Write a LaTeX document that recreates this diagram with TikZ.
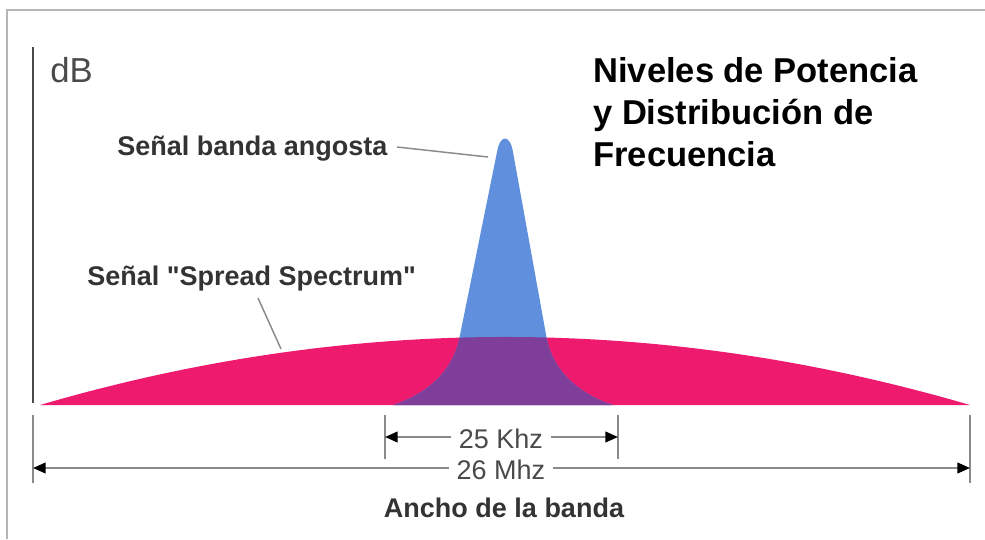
\documentclass[tikz,border=0pt]{standalone}
\usepackage{fontspec}
\setmainfont{Liberation Sans}[Ligatures=TeXOff]
\usetikzlibrary{arrows.meta}
\definecolor{pinkc}{HTML}{EE1A6E}
\definecolor{bluec}{HTML}{6090DD}
\definecolor{purplec}{HTML}{7F3E99}
\definecolor{dimc}{HTML}{8A8A8A}
\definecolor{labelc}{HTML}{333333}
\definecolor{framec}{HTML}{B5B5B5}
\definecolor{axisc}{HTML}{4A4A4A}
\tikzset{
  lbl/.style={font=\fontsize{20.25pt}{24pt}\selectfont\bfseries, text=labelc, inner sep=0pt},
  dimtext/.style={font=\fontsize{20.25pt}{24pt}\selectfont, text=axisc, fill=white, inner xsep=6pt, inner ysep=1pt},
  titletext/.style={font=\fontsize{25.9pt}{31pt}\selectfont\bfseries, text=black, inner sep=0pt, anchor=base west},
  pointer/.style={draw=dimc, line width=1.1pt},
  dimline/.style={draw=dimc, line width=1.5pt},
  tick/.style={draw=dimc, line width=1.5pt},
  dimarrow/.style={dimline, {Triangle[length=9.5pt,width=8pt,color=black]}-{Triangle[length=9.5pt,width=8pt,color=black]}},
}
\begin{document}
\begin{tikzpicture}[x=0.75pt,y=-0.75pt]
\useasboundingbox (0,0) rectangle (985,539);
% frame
\draw[framec, line width=0.9pt] (7,539) -- (7,10) -- (985,10);
% y axis
\draw[axisc, line width=1.5pt] (33,47) -- (33,403);
\node[font=\fontsize{26pt}{30pt}\selectfont, text=axisc, inner sep=0pt, anchor=base west] (db) at (50,82) {dB};

% curves
\def\pinkpath{(40,405) .. controls (350,314.3) and (660,314.3) .. (970,405) -- cycle}
\def\bluepath{(393,405) .. controls (415,398) and (450,380) .. (459,340) -- (497,152) .. controls (500,134) and (510,134) .. (513,152) -- (547,340) .. controls (556,380) and (591,398) .. (613,405) -- cycle}
\fill[pinkc] \pinkpath;
\fill[bluec] \bluepath;
\begin{scope}
  \clip \pinkpath;
  \fill[purplec] \bluepath;
\end{scope}

% labels and pointers
\node[lbl, anchor=base west] (narrow) at (117,155) {Señal banda angosta};
\coordinate (narrowtip) at (488,157);
\draw[pointer] ([xshift=7pt,yshift=6pt]narrow.base east) -- (narrowtip);

\node[lbl, anchor=base west] (spread) at (87,285) {Señal "Spread Spectrum"};
\coordinate (spreadfrom) at (258,298);
\coordinate (spreadtip) at (281,349);
\draw[pointer] (spreadfrom) -- (spreadtip);

% title
\node[titletext] (title1) at (593,82) {Niveles de Potencia};
\node[titletext] (title2) at (593,124) {y Distribución de};
\node[titletext] (title3) at (593,166) {Frecuencia};

% 25 Khz dimension
\coordinate (k1top) at (385,415);
\coordinate (k1bot) at (385,459);
\coordinate (k2top) at (618,415);
\coordinate (k2bot) at (618,459);
\draw[tick] (k1top) -- (k1bot);
\draw[tick] (k2top) -- (k2bot);
\coordinate (k1) at (385,437);
\coordinate (k2) at (618,437);
\draw[dimarrow] (k1) -- (k2);
\node[dimtext, anchor=base] (khz) at (501,448) {25 Khz};

% 26 Mhz dimension
\coordinate (m1top) at (33,415);
\coordinate (m1bot) at (33,483);
\coordinate (m2top) at (970,415);
\coordinate (m2bot) at (970,483);
\draw[tick] (m1top) -- (m1bot);
\draw[tick] (m2top) -- (m2bot);
\coordinate (m1) at (33,468);
\coordinate (m2) at (970,468);
\draw[dimarrow] (m1) -- (m2);
\node[dimtext, anchor=base, inner ysep=0pt] (mhz) at (501,479) {26 Mhz};

\node[lbl, anchor=base] (ancho) at (504,517) {Ancho de la banda};
\end{tikzpicture}
\end{document}
